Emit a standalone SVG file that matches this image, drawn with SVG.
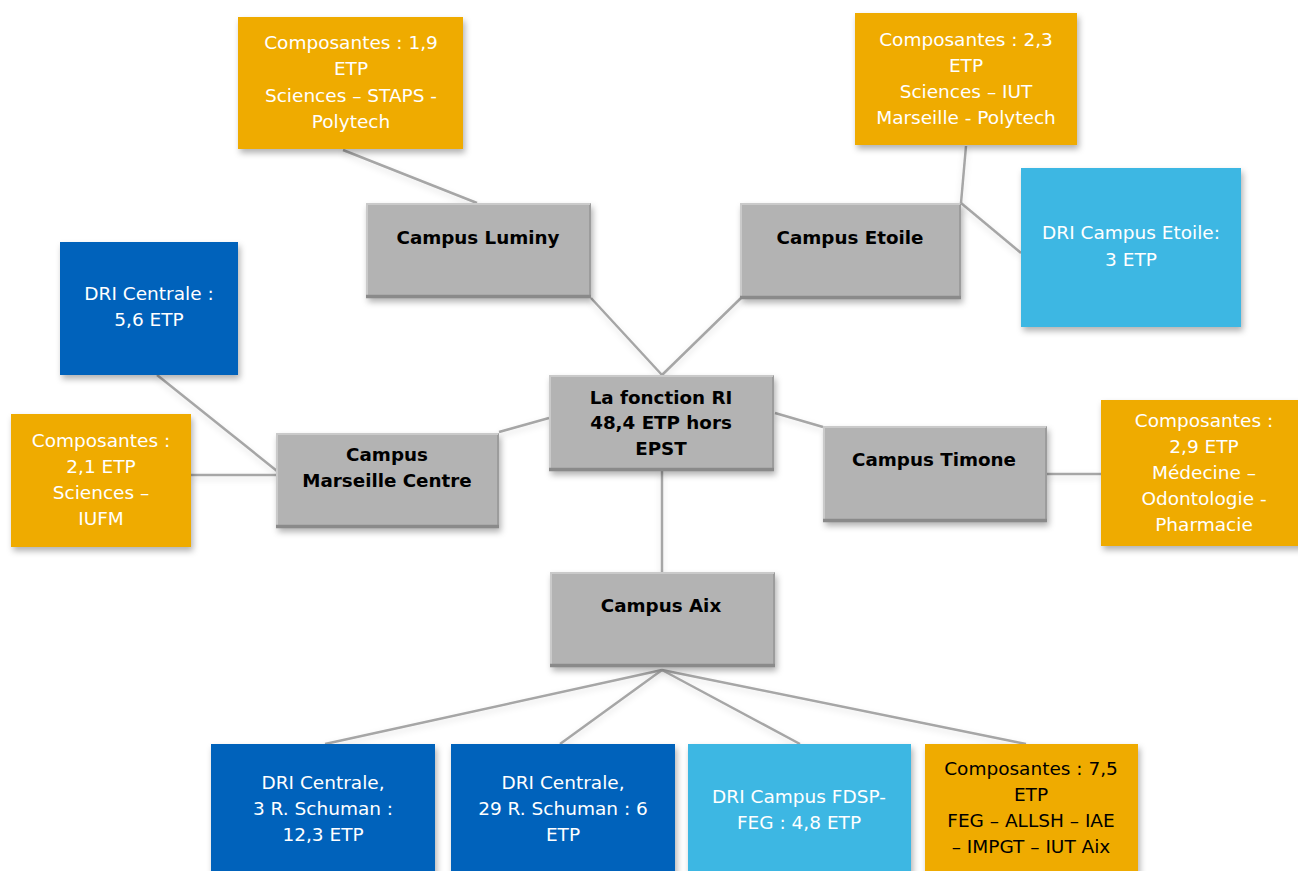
<svg xmlns="http://www.w3.org/2000/svg" width="1298" height="871" viewBox="0 0 1298 871">
  <defs>
    <filter id="shadow" x="-10%" y="-10%" width="125%" height="130%">
      <feDropShadow dx="2" dy="4" stdDeviation="3" flood-color="#000" flood-opacity="0.3"/>
    </filter>
    <filter id="lineShadow" x="-5%" y="-5%" width="110%" height="110%">
      <feDropShadow dx="0" dy="3" stdDeviation="3" flood-color="#000" flood-opacity="0.12"/>
    </filter>
  </defs>
  <style>
    text { font-family: "DejaVu Sans", Verdana, sans-serif; font-size: 18.5px; text-anchor: middle; }
    .light { fill: #ffffff; }
    .dark { fill: #000000; }
    .bold { font-weight: bold; fill: #000000; font-size: 18.3px; }
    .orange { fill: #EFAB00; filter: url(#shadow); }
    .blue { fill: #0062BB; filter: url(#shadow); }
    .sky { fill: #3DB7E3; filter: url(#shadow); }
    .gray { fill: #B3B3B3; filter: url(#shadow); }
    .hi { stroke: #CACACA; stroke-width: 2; fill: none; }
    .lo { stroke: #8A8A8A; stroke-width: 3.5; fill: none; }
    .side { stroke: #9C9C9C; stroke-width: 2; fill: none; }
    .conn { stroke: #A6A6A6; stroke-width: 2.5; fill: none; }
  </style>

  <!-- connectors -->
  <g id="connectors" filter="url(#lineShadow)">
    <line class="conn" x1="343" y1="150" x2="477" y2="203"/>
    <line class="conn" x1="591" y1="298" x2="662" y2="375"/>
    <line class="conn" x1="966" y1="146" x2="961" y2="203"/>
    <line class="conn" x1="961" y1="203" x2="1021" y2="253"/>
    <line class="conn" x1="741" y1="298" x2="662" y2="375"/>
    <line class="conn" x1="157" y1="375" x2="277" y2="471"/>
    <line class="conn" x1="191" y1="475" x2="277" y2="475"/>
    <line class="conn" x1="499" y1="432" x2="549" y2="418"/>
    <line class="conn" x1="775" y1="413" x2="823" y2="427"/>
    <line class="conn" x1="1047" y1="474" x2="1101" y2="474"/>
    <line class="conn" x1="662" y1="470" x2="662" y2="572"/>
    <line class="conn" x1="662" y1="670" x2="325" y2="744"/>
    <line class="conn" x1="662" y1="670" x2="560" y2="744"/>
    <line class="conn" x1="662" y1="670" x2="800" y2="744"/>
    <line class="conn" x1="662" y1="670" x2="1026" y2="744"/>
  </g>

  <!-- Luminy components -->
  <g id="comp-luminy">
    <rect class="orange" x="238" y="17" width="225" height="132"/>
    <text class="light" x="351" y="49">Composantes : 1,9</text>
    <text class="light" x="351" y="75">ETP</text>
    <text class="light" x="351" y="102">Sciences – STAPS -</text>
    <text class="light" x="351" y="128">Polytech</text>
  </g>

  <!-- Etoile components -->
  <g id="comp-etoile">
    <rect class="orange" x="855" y="13" width="222" height="132"/>
    <text class="light" x="966" y="46">Composantes : 2,3</text>
    <text class="light" x="966" y="72">ETP</text>
    <text class="light" x="966" y="98">Sciences – IUT</text>
    <text class="light" x="966" y="124">Marseille - Polytech</text>
  </g>

  <!-- DRI Etoile -->
  <g id="dri-etoile">
    <rect class="sky" x="1021" y="168" width="220" height="159"/>
    <text class="light" x="1131" y="239">DRI Campus Etoile:</text>
    <text class="light" x="1131" y="266">3 ETP</text>
  </g>

  <!-- Campus Luminy -->
  <g id="campus-luminy">
    <rect class="gray" x="366" y="203" width="225" height="95"/>
    <path class="side" d="M590,204 V296"/>
    <path class="hi" d="M367,297 V204 H590"/>
    <path class="lo" d="M366,296.5 H591"/>
    <text class="bold" x="478" y="244">Campus Luminy</text>
  </g>

  <!-- Campus Etoile -->
  <g id="campus-etoile">
    <rect class="gray" x="740" y="203" width="221" height="96"/>
    <path class="side" d="M960,204 V297"/>
    <path class="hi" d="M741,298 V204 H960"/>
    <path class="lo" d="M740,297.5 H961"/>
    <text class="bold" x="850" y="244">Campus Etoile</text>
  </g>

  <!-- DRI Centrale -->
  <g id="dri-centrale">
    <rect class="blue" x="60" y="242" width="178" height="133"/>
    <text class="light" x="149" y="300">DRI Centrale :</text>
    <text class="light" x="149" y="326">5,6 ETP</text>
  </g>

  <!-- Marseille Centre components -->
  <g id="comp-centre">
    <rect class="orange" x="11" y="414" width="180" height="133"/>
    <text class="light" x="101" y="447">Composantes :</text>
    <text class="light" x="101" y="473">2,1 ETP</text>
    <text class="light" x="101" y="499">Sciences –</text>
    <text class="light" x="101" y="525">IUFM</text>
  </g>

  <!-- Campus Marseille Centre -->
  <g id="campus-centre">
    <rect class="gray" x="276" y="433" width="223" height="95"/>
    <path class="side" d="M498,434 V526"/>
    <path class="hi" d="M277,527 V434 H498"/>
    <path class="lo" d="M276,526.5 H499"/>
    <text class="bold" x="387" y="461">Campus</text>
    <text class="bold" x="387" y="487">Marseille Centre</text>
  </g>

  <!-- Central node -->
  <g id="fonction-ri">
    <rect class="gray" x="549" y="375" width="225" height="96"/>
    <path class="side" d="M773,376 V469"/>
    <path class="hi" d="M550,470 V376 H773"/>
    <path class="lo" d="M549,469.5 H774"/>
    <text class="bold" x="661" y="404">La fonction RI</text>
    <text class="bold" x="661" y="429">48,4 ETP hors</text>
    <text class="bold" x="661" y="455">EPST</text>
  </g>

  <!-- Campus Timone -->
  <g id="campus-timone">
    <rect class="gray" x="823" y="426" width="224" height="96"/>
    <path class="side" d="M1046,427 V520"/>
    <path class="hi" d="M824,521 V427 H1046"/>
    <path class="lo" d="M823,520.5 H1047"/>
    <text class="bold" x="934" y="466">Campus Timone</text>
  </g>

  <!-- Timone components -->
  <g id="comp-timone">
    <rect class="orange" x="1101" y="400" width="210" height="146"/>
    <text class="light" x="1204" y="427">Composantes :</text>
    <text class="light" x="1204" y="453">2,9 ETP</text>
    <text class="light" x="1204" y="479">Médecine –</text>
    <text class="light" x="1204" y="505">Odontologie -</text>
    <text class="light" x="1204" y="531">Pharmacie</text>
  </g>

  <!-- Campus Aix -->
  <g id="campus-aix">
    <rect class="gray" x="550" y="572" width="225" height="95"/>
    <path class="side" d="M774,573 V665"/>
    <path class="hi" d="M551,666 V573 H774"/>
    <path class="lo" d="M550,665.5 H775"/>
    <text class="bold" x="661" y="612">Campus Aix</text>
  </g>

  <!-- Aix services -->
  <g id="dri-schuman-3">
    <rect class="blue" x="211" y="744" width="224" height="140"/>
    <text class="light" x="323" y="789">DRI Centrale,</text>
    <text class="light" x="323" y="815">3 R. Schuman :</text>
    <text class="light" x="323" y="841">12,3 ETP</text>
  </g>

  <g id="dri-schuman-29">
    <rect class="blue" x="451" y="744" width="224" height="140"/>
    <text class="light" x="563" y="789">DRI Centrale,</text>
    <text class="light" x="563" y="815">29 R. Schuman : 6</text>
    <text class="light" x="563" y="841">ETP</text>
  </g>

  <g id="dri-fdsp">
    <rect class="sky" x="688" y="744" width="223" height="140"/>
    <text class="light" x="799" y="803">DRI Campus FDSP-</text>
    <text class="light" x="799" y="829">FEG : 4,8 ETP</text>
  </g>

  <g id="comp-aix">
    <rect class="orange" x="925" y="744" width="213" height="140"/>
    <text class="dark" x="1031" y="775">Composantes : 7,5</text>
    <text class="dark" x="1031" y="801">ETP</text>
    <text class="dark" x="1031" y="827">FEG – ALLSH – IAE</text>
    <text class="dark" x="1031" y="853">– IMPGT – IUT Aix</text>
  </g>
</svg>
